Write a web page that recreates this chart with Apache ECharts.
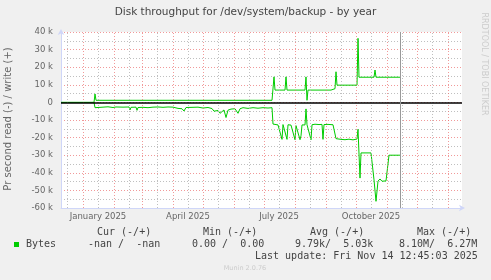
<!DOCTYPE html>
<html><head><meta charset="utf-8">
<script src="https://cdn.jsdelivr.net/npm/echarts@6/dist/echarts.min.js"></script>
<style>html,body{margin:0;padding:0;background:#f0f0f0}#c{width:491px;height:280px}</style>
</head><body><div id="c"></div>
<script>
// ---- data (x = days since 2025-01-01, y = bytes per second) ----
const chartTitle = 'Disk throughput for /dev/system/backup - by year';
const yAxisTitle = 'Pr second read (-) / write (+)';
const yMin = -60000, yMax = 40000, yStep = 10000;
const xLabelText = ['January 2025', 'April 2025', 'July 2025', 'October 2025'];
const xLabelDates = [[2025,1,16], [2025,4,16], [2025,7,16], [2025,10,16]];
const rangeStart = [2024,12,10];
const rangeEnd = [2026,1,15];
const nowDate = [2025,11,14];

const writeData = [
  [-22,0],[11,0],[12,4800],[13,1200],[189,1200],[190,1300],[191,14500],[192,7000],
  [202,7000],[203,14500],[204,7000],[222,7000],[223,14500],[224,1200],[225,7000],
  [240,7000],[241,7600],[242,7000],[248,7000],[249,7800],[252,7800],[253,17400],
  [254,9800],[274,9800],[275,36400],[276,14300],[291,14300],[292,18400],[293,14300],[317,14300]
];
const readData = [
  [-22,0],[11,0],[12,-3000],[13,-2600],[20,-2700],[25,-2500],[30,-2900],[33,-2600],
  [40,-2700],[46,-2600],[47,-4300],[48,-2800],[53,-2700],[54,-4500],[55,-2900],[60,-2800],
  [65,-3000],[70,-2700],[75,-2600],[80,-2800],[85,-2600],[90,-2700],[95,-3400],[96,-2800],
  [99,-3600],[101,-4900],[103,-2900],[105,-3000],[110,-2800],[115,-2700],[120,-3200],[125,-2900],
  [129,-3500],[131,-5000],[133,-5800],[135,-4600],[137,-6200],[139,-5400],[141,-4300],[143,-8600],
  [145,-4400],[148,-3800],[152,-3600],[155,-6200],[157,-3600],[160,-3000],[165,-3400],[170,-3000],
  [175,-3300],[180,-3000],[185,-3200],[189,-3000],[190,-12300],[192,-12500],[195,-12800],
  [199,-21000],[200,-12600],[202,-12800],[204,-21000],[205,-12700],[208,-12900],[212,-21200],
  [213,-13200],[215,-13000],[217,-21200],[218,-19000],[219,-12800],[222,-12800],[223,-3700],
  [224,-12700],[226,-12900],[228,-21200],[229,-12700],[232,-12400],[236,-12600],[239,-12500],
  [240,-21000],[241,-12600],[245,-12500],[250,-12700],[253,-20600],[258,-21000],[262,-21200],
  [266,-20900],[270,-21300],[274,-20800],[275,-15300],[277,-43000],[278,-28700],[288,-28700],
  [291,-44000],[293,-56200],[295,-44700],[297,-43500],[299,-44800],[301,-43800],[303,-44600],
  [305,-44500],[306,-30000],[317,-30000]
];
const legendHead = ['Cur (-/+)', 'Min (-/+)', 'Avg (-/+)', 'Max (-/+)'];
const legendName = 'Bytes';
const legendVals = ['-nan /  -nan', '0.00 /  0.00', '9.79k/  5.03k', '8.10M/  6.27M'];
const lastUpdate = 'Last update: Fri Nov 14 12:45:03 2025';
const muninVer = 'Munin 2.0.76';
const rrdCredit = 'RRDTOOL / TOBI OETIKER';

// ---- helpers ----
const dayOf = (y,m,d) => Math.round((Date.UTC(y,m-1,d) - Date.UTC(2025,0,1)) / 864e5);
const xMin = dayOf(...rangeStart), xMax = dayOf(...rangeEnd), nowDay = dayOf(...nowDate);
const labelDays = xLabelDates.map(d => dayOf(...d));
const monthStarts = [], monthMids = [];
for (let i = 0; i < 15; i++) {
  const y = 2024 + Math.floor((11 + i) / 12), m = (11 + i) % 12 + 1;
  const s = dayOf(y, m, 1), h = dayOf(y, m, 16);
  if (s >= xMin && s <= xMax) monthStarts.push(s);
  if (h >= xMin && h <= xMax) monthMids.push(h);
}
const GREEN = '#00cc00';
const MGRID = 'rgba(235,110,110,0.7)';
const GRID = 'rgba(175,175,175,0.8)';
const FONT = 'DejaVu Sans';
const MONO = 'DejaVu Sans Mono';

const chart = echarts.init(document.getElementById('c'), null, {renderer: 'canvas'});
const legendX = [97, 203, 310, 417];
const valX = [88, 192, 295, 399];
const graphics = [
  {type:'text', x:245.5, y:12, style:{text:chartTitle, font:'10.5px "'+FONT+'"', fill:'#444', align:'center', verticalAlign:'middle'}},
  {type:'text', x:8.5, y:119, rotation:Math.PI/2, style:{text:yAxisTitle, font:'10px "'+FONT+'"', fill:'#666', align:'center', verticalAlign:'middle'}},
  {type:'text', x:484, y:64, rotation:-Math.PI/2, style:{text:rrdCredit, font:'8px "'+FONT+'"', fill:'#cccccc', align:'center', verticalAlign:'middle'}},
  {type:'rect', shape:{x:14, y:242, width:5, height:5}, style:{fill:GREEN}},
  {type:'text', x:26, y:244.5, style:{text:legendName, font:'10px "'+MONO+'"', fill:'#444', verticalAlign:'middle'}},
  {type:'text', x:255, y:256.7, style:{text:lastUpdate, font:'10px "'+MONO+'"', fill:'#444', verticalAlign:'middle'}},
  {type:'text', x:245, y:268.5, style:{text:muninVer, font:'6.5px "'+FONT+'"', fill:'#cccccc', align:'center', verticalAlign:'middle'}}
];
legendHead.forEach((t,i)=>graphics.push({type:'text', x:legendX[i], y:232.7, style:{text:t, font:'10px "'+MONO+'"', fill:'#444', verticalAlign:'middle'}}));
legendVals.forEach((t,i)=>graphics.push({type:'text', x:valX[i], y:244.5, style:{text:t, font:'10px "'+MONO+'"', fill:'#444', verticalAlign:'middle', whiteSpace:'pre'}}));

const vline = (x, color, type) => ({xAxis:x, lineStyle:{color, width:1, type}});

chart.setOption({
  animation:false,
  backgroundColor:'#f0f0f0',
  grid:{left:61, right:29, top:32, bottom:72, show:true, backgroundColor:'#ffffff', borderWidth:0},
  xAxis:{
    type:'value', min:xMin, max:xMax,
    axisLine:{show:true, onZero:false, lineStyle:{color:'#cfd6f8', width:1}, symbol:['none','arrow'], symbolSize:[5,6], symbolOffset:[0,3]},
    axisTick:{show:false},
    splitLine:{show:false},
    axisLabel:{customValues:labelDays, formatter:(v)=>xLabelText[labelDays.indexOf(v)] || '', color:'#666', fontFamily:FONT, fontSize:8.5, margin:4}
  },
  yAxis:{
    type:'value', min:yMin, max:yMax, interval:yStep,
    axisLine:{show:true, onZero:false, lineStyle:{color:'#cfd6f8', width:1}, symbol:['none','arrow'], symbolSize:[5,6], symbolOffset:[0,3]},
    axisTick:{show:false},
    axisLabel:{formatter:(v)=> v===0 ? '0' : (v/1000)+' k', color:'#666', fontFamily:FONT, fontSize:8.5, margin:8},
    splitLine:{show:true, lineStyle:{color:MGRID, width:1, type:[1,2]}},
    minorTick:{show:false, splitNumber:2},
    minorSplitLine:{show:true, lineStyle:{color:GRID, width:1, type:[1,2]}}
  },
  graphic:graphics,
  series:[
    {type:'line', data:[], z:1, silent:true,
     markLine:{silent:true, symbol:'none', label:{show:false}, animation:false,
       data:[...monthMids.map(d=>vline(d, GRID, [1,2])), ...monthStarts.map(d=>vline(d, MGRID, [1,2]))]}},
    {type:'line', data:writeData, showSymbol:false, lineStyle:{color:GREEN, width:1}, itemStyle:{color:GREEN}, z:3},
    {type:'line', data:readData, showSymbol:false, lineStyle:{color:GREEN, width:1}, itemStyle:{color:GREEN}, z:3},
    {type:'line', data:[], z:5, silent:true,
     markLine:{silent:true, symbol:'none', label:{show:false}, animation:false,
       data:[{yAxis:0, lineStyle:{color:'#000', width:1.5, type:'solid'}}, vline(nowDay, '#999999', 'solid')]}}
  ]
});
</script></body></html>
